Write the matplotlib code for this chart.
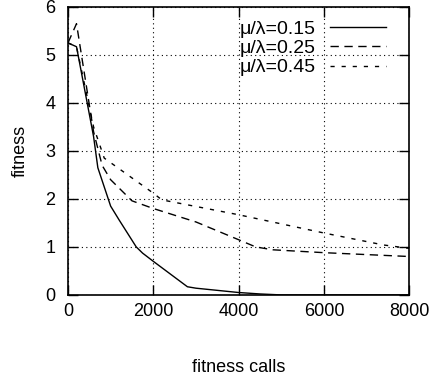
import matplotlib
matplotlib.use("Agg")
import matplotlib.pyplot as plt

plt.rcParams["font.family"] = ["Liberation Sans", "DejaVu Sans"]

# Values
calls_015 = [0, 200, 600, 700, 1000, 1200, 1600, 1750, 2000, 2800, 3000, 4000, 4500, 5000, 8000]
fit_015 = [5.25, 5.17, 3.3, 2.65, 1.85, 1.56, 1.0, 0.87, 0.7, 0.17, 0.14, 0.05, 0.02, 0.0, 0.0]

calls_025 = [0, 200, 600, 800, 1000, 1500, 2000, 3000, 4000, 4400, 4800, 6000, 8000]
fit_025 = [5.25, 5.65, 3.4, 2.7, 2.4, 1.96, 1.8, 1.52, 1.15, 1.0, 0.94, 0.88, 0.8]

calls_045 = [0, 200, 600, 850, 2000, 2200, 4000, 6000, 7400, 8000]
fit_045 = [5.25, 5.17, 3.5, 2.85, 2.12, 1.98, 1.67, 1.29, 1.04, 0.97]

labels = ["μ/λ=0.15", "μ/λ=0.25", "μ/λ=0.45"]
xticks = [0, 2000, 4000, 6000, 8000]
yticks = [0, 1, 2, 3, 4, 5, 6]

fig = plt.figure(figsize=(4.33, 3.83), dpi=100)
ax = fig.add_axes([0.157, 0.230, 0.788, 0.752])

ax.plot(calls_015, fit_015, color="black", lw=1.0, ls="-", label=labels[0])
ax.plot(calls_025, fit_025, color="black", lw=1.0, ls=(0, (6, 4)), label=labels[1])
ax.plot(calls_045, fit_045, color="black", lw=1.0, ls=(0, (3, 5)), label=labels[2])

ax.set_xlim(0, 8000)
ax.set_ylim(0, 6)
ax.set_xticks(xticks)
ax.set_yticks(yticks)
ax.grid(True, color="black", ls=(0, (1, 3)), lw=0.8)
ax.tick_params(direction="in", length=7, width=1.0, top=True, right=True,
               labelsize=13, pad=6)
ax.tick_params(axis="y", pad=9)
for s in ax.spines.values():
    s.set_linewidth(1.2)

ax.set_xlabel("fitness calls", fontsize=13, labelpad=28)
ax.set_ylabel("fitness", fontsize=13, labelpad=12)

ax.legend(loc="upper right", frameon=False, markerfirst=False, fontsize=14,
          handlelength=2.9, handletextpad=0.7, labelspacing=0.08,
          borderaxespad=0.3, bbox_to_anchor=(0.972, 1.0))

fig.savefig("out.png", dpi=100)
